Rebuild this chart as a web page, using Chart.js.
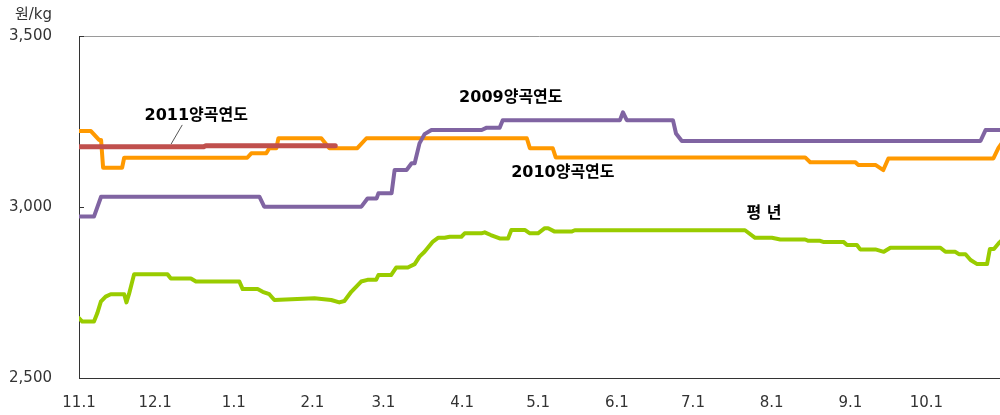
<!DOCTYPE html>
<html lang="ko">
<head>
<meta charset="utf-8">
<script src="https://cdn.jsdelivr.net/npm/chart.js@4.4.1/dist/chart.umd.min.js"></script>
<style>
  html, body { margin: 0; padding: 0; background: #ffffff; overflow: hidden; }
  #wrap { width: 1000px; height: 415px; }
</style>
</head>
<body>
<div id="wrap"><canvas id="c" width="1000" height="415"></canvas></div>
<script>
// Day offsets from Nov 1 for the month-start ticks, and their labels
const tickDays = [0, 30, 61, 92, 120, 151, 181, 212, 242, 273, 304, 334];
const tickLabels = ['11.1', '12.1', '1.1', '2.1', '3.1', '4.1', '5.1', '6.1', '7.1', '8.1', '9.1', '10.1'];

// 2011 crop year (원/kg)
const days2011 = [0, 49, 50, 101];
const price2011 = [3176, 3176, 3179, 3179];

// 2009 crop year
const days2009 = [0, 5.9, 8.7, 71.1, 73, 111.3, 113.7, 117.3, 118, 123.2, 124.4, 129.1, 131.1, 132.3, 134.2, 136.2, 138.9, 158.7, 160.7, 165.8, 167, 213.2, 214.4, 215.9, 234.1, 235.3, 237.6, 355.3, 357.3, 364];
const price2009 = [2972, 2972, 3030, 3030, 3001, 3001, 3025, 3025, 3040, 3040, 3108, 3108, 3128, 3128, 3186, 3213, 3225, 3225, 3232, 3232, 3254, 3254, 3277, 3254, 3254, 3215, 3193, 3193, 3225, 3225];

// 2010 crop year
const days2010 = [0, 4.7, 7.9, 8.7, 9.5, 17, 17.8, 66.3, 67.9, 73.8, 75, 77.8, 78.6, 95.5, 98.7, 109.7, 113.3, 176.5, 177.7, 186.7, 187.9, 286.2, 288.2, 306, 307.1, 313.9, 317, 319, 360.4, 362.4, 364];
const price2010 = [3222, 3222, 3196, 3196, 3115, 3115, 3144, 3144, 3157, 3157, 3172, 3172, 3201, 3201, 3172, 3172, 3201, 3201, 3172, 3172, 3145, 3145, 3131, 3131, 3123, 3123, 3108, 3142, 3142, 3173, 3190];

// Normal-year average
const daysAvg = [0, 1.3, 5.9, 7.2, 8.6, 10.5, 12.5, 17.8, 18.7, 19.7, 21.7, 34.9, 36.2, 44.1, 46.1, 63.2, 64.5, 70.4, 72.4, 75, 77, 92.8, 99.4, 102.6, 104.6, 107.3, 111.2, 113.7, 117.1, 118, 123, 125, 129.6, 132.3, 134.2, 136.2, 139.5, 141.5, 144.1, 146.1, 150.7, 152, 158.6, 159.9, 162.3, 165.8, 169.1, 170.4, 175.7, 177.7, 180.9, 183.6, 184.9, 187.5, 194.1, 195.4, 262.5, 266.5, 273.1, 276.4, 286.2, 287.5, 292.1, 293.3, 301.3, 302.7, 306.6, 307.9, 313.9, 317.2, 319.8, 339.5, 341.5, 345.4, 346.8, 349.4, 351.4, 354, 357.9, 359, 360.6, 362.5, 364];
const priceAvg = [2675, 2665, 2665, 2689, 2723, 2738, 2745, 2745, 2721, 2745, 2803, 2803, 2791, 2791, 2782, 2782, 2760, 2760, 2752, 2745, 2728, 2733, 2728, 2721, 2725, 2752, 2782, 2787, 2787, 2801, 2801, 2823, 2823, 2833, 2855, 2869, 2899, 2910, 2910, 2913, 2913, 2923, 2923, 2926, 2918, 2908, 2908, 2933, 2933, 2923, 2923, 2938, 2938, 2928, 2928, 2932, 2932, 2910, 2910, 2905, 2905, 2901, 2901, 2898, 2898, 2889, 2889, 2876, 2876, 2869, 2881, 2881, 2869, 2869, 2862, 2862, 2845, 2833, 2833, 2877, 2877, 2894, 2905];

const toPoints = (xs, ys) => xs.map((x, i) => ({ x: x, y: ys[i] }));

const NUM_FONT = '"DejaVu Sans", "Noto Sans CJK KR", sans-serif';
const KR_FONT = '"DejaVu Sans", "Noto Sans CJK KR", sans-serif';

// Series labels placed at (day, price) positions
const seriesLabels = [
  { text: '2011양곡연도', day: 46.2, value: 3266 },
  { text: '2009양곡연도', day: 170.2, value: 3319 },
  { text: '2010양곡연도', day: 190.7, value: 3099 },
  { text: '평 년', day: 270, value: 2980 }
];

const decorations = {
  id: 'decorations',
  afterDraw(chart) {
    const { ctx, chartArea, scales } = chart;
    const xs = scales.x, ys = scales.y;
    ctx.save();
    // plot frame top edge
    ctx.strokeStyle = '#9a9a9a';
    ctx.lineWidth = 1;
    ctx.beginPath();
    ctx.moveTo(chartArea.left, chartArea.top + 0.5);
    ctx.lineTo(chartArea.right, chartArea.top + 0.5);
    ctx.stroke();
    // small inward tick marks on the value axis
    ctx.strokeStyle = '#333';
    ys.ticks.forEach(t => {
      const py = Math.round(ys.getPixelForValue(t.value)) + 0.5;
      ctx.beginPath();
      ctx.moveTo(chartArea.left, py);
      ctx.lineTo(chartArea.left + 5, py);
      ctx.stroke();
    });
    // unit label
    ctx.fillStyle = '#333';
    ctx.font = '15px ' + KR_FONT;
    ctx.textAlign = 'right';
    ctx.textBaseline = 'middle';
    ctx.fillText('원/kg', chartArea.left - 27, 15);
    // leader line for the 2011 label
    ctx.strokeStyle = '#555';
    ctx.beginPath();
    ctx.moveTo(xs.getPixelForValue(40.7), ys.getPixelForValue(3240));
    ctx.lineTo(xs.getPixelForValue(36.3), ys.getPixelForValue(3184));
    ctx.stroke();
    // series labels
    ctx.fillStyle = '#000';
    ctx.font = 'bold 16px ' + KR_FONT;
    ctx.textAlign = 'center';
    seriesLabels.forEach(l => {
      ctx.fillText(l.text, xs.getPixelForValue(l.day), ys.getPixelForValue(l.value));
    });
    ctx.restore();
  }
};

const lineStyle = (label, data, color, width) => ({
  label: label,
  data: data,
  borderColor: color,
  backgroundColor: color,
  borderWidth: width,
  pointRadius: 0,
  tension: 0,
  fill: false,
  borderJoinStyle: 'round',
  borderCapStyle: 'round'
});

new Chart(document.getElementById('c'), {
  type: 'line',
  data: {
    datasets: [
      lineStyle('2011양곡연도', toPoints(days2011, price2011), '#c0504d', 5),
      lineStyle('2009양곡연도', toPoints(days2009, price2009), '#8064a2', 4),
      lineStyle('2010양곡연도', toPoints(days2010, price2010), '#ff9900', 4),
      lineStyle('평년', toPoints(daysAvg, priceAvg), '#99cc00', 4)
    ]
  },
  options: {
    responsive: false,
    animation: false,
    devicePixelRatio: 1,
    layout: { padding: { top: 36, right: 0, bottom: 0, left: 0 } },
    plugins: { legend: { display: false }, tooltip: { enabled: false }, title: { display: false } },
    scales: {
      x: {
        type: 'linear',
        min: 0,
        max: 363,
        grid: { display: false, drawTicks: false },
        border: { display: true, color: '#333', width: 1 },
        afterBuildTicks(scale) { scale.ticks = tickDays.map(v => ({ value: v })); },
        afterFit(scale) { scale.height = 37; },
        ticks: {
          autoSkip: false,
          maxRotation: 0,
          padding: 16,
          color: '#333',
          font: { family: NUM_FONT, size: 15 },
          callback: (v) => { const i = tickDays.indexOf(v); return i >= 0 ? tickLabels[i] : ''; }
        }
      },
      y: {
        min: 2500,
        max: 3500,
        grid: { display: false, drawTicks: false },
        border: { display: true, color: '#333', width: 1 },
        afterFit(scale) { scale.width = 79; },
        ticks: {
          stepSize: 500,
          padding: 27,
          color: '#333',
          font: { family: NUM_FONT, size: 15 },
          callback: (v) => v.toLocaleString('en-US')
        }
      }
    }
  },
  plugins: [decorations]
});
</script>
</body>
</html>
